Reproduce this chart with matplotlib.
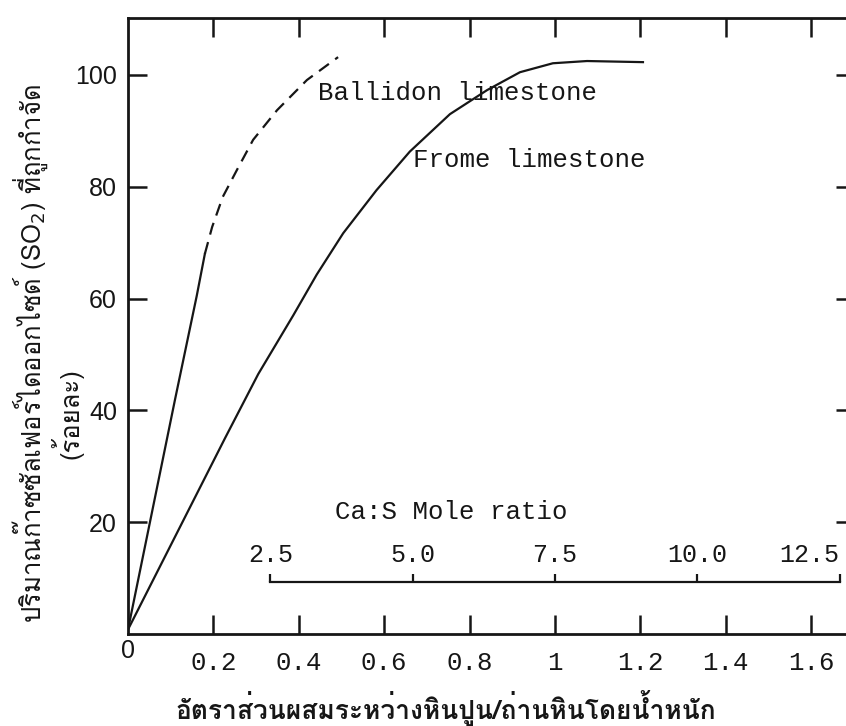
import matplotlib
matplotlib.use("Agg")
import matplotlib.pyplot as plt
from matplotlib import font_manager as fm
from matplotlib.ft2font import FT2Font

# values
ballidon_solid_x = [0, 0.110, 0.161, 0.180]
ballidon_solid_y = [0.8, 41.9, 60.5, 68.0]
ballidon_dash_x = [0.180, 0.197, 0.222, 0.255, 0.293, 0.349, 0.419, 0.492]
ballidon_dash_y = [68.0, 72.8, 78.2, 83.0, 88.4, 93.7, 99.1, 103.2]
frome_x = [0, 0.227, 0.305, 0.387, 0.442, 0.504, 0.582, 0.660,
           0.754, 0.841, 0.918, 0.995, 1.075, 1.206]
frome_y = [0.8, 35.0, 46.5, 57.0, 64.3, 71.7, 79.4, 86.3,
           93.0, 97.3, 100.5, 102.1, 102.5, 102.3]

x_ticks = [0.2, 0.4, 0.6, 0.8, 1.0, 1.2, 1.4, 1.6]
x_labels = ["0.2", "0.4", "0.6", "0.8", "1", "1.2", "1.4", "1.6"]
y_ticks = [20, 40, 60, 80, 100]

mole_per_weight = 7.5
mole_ticks = [2.5, 5.0, 7.5, 10.0, 12.5]
mole_labels = ["2.5", "5.0", "7.5", "10.0", "12.5"]
mole_axis_y = 9.3

ylabel_1 = "ปริมาณก๊าซซัลเฟอร์ไดออกไซด์ (SO$_2$) ที่ถูกกำจัด"
ylabel_2 = "(ร้อยละ)"
xlabel = "อัตราส่วนผสมระหว่างหินปูน/ถ่านหินโดยน้ำหนัก"


def find_thai(bold):
    # look for an installed font that has Thai glyphs
    found = None
    for f in fm.fontManager.ttflist:
        try:
            cmap = FT2Font(f.fname).get_charmap()
        except Exception:
            continue
        if 0x0E01 not in cmap:
            continue
        is_bold = f.weight in ("bold", "heavy") or (isinstance(f.weight, int) and f.weight >= 600)
        if found is None or is_bold == bold:
            found = f
            if is_bold == bold:
                break
    return found


thai_reg = find_thai(False)
thai_bold = find_thai(True)
thai_fam = [thai_reg.name, "DejaVu Sans"] if thai_reg else ["DejaVu Sans"]
bold_fam = [thai_bold.name, "DejaVu Sans"] if thai_bold else thai_fam

mono = "Liberation Mono"
sans = "Liberation Sans"
ink = "#161616"

fig = plt.figure(figsize=(8.46, 7.26), dpi=100)
ax = fig.add_axes([128 / 846, 1 - 634 / 726, 1 - 128 / 846, (634 - 18) / 726])
ax.set_xlim(0, (846 - 128) / 427)
ax.set_ylim(0, 616 / 5.59)

ax.plot(ballidon_solid_x, ballidon_solid_y, color=ink, lw=1.6)
ax.plot(ballidon_dash_x, ballidon_dash_y, color=ink, lw=1.6, dashes=(5.5, 3.5))
ax.plot(frome_x, frome_y, color=ink, lw=1.6)

for side in ["left", "bottom", "top"]:
    ax.spines[side].set_linewidth(2.0)
    ax.spines[side].set_color(ink)
ax.spines["right"].set_visible(False)

ax.set_xticks(x_ticks, labels=x_labels)
ax.set_yticks(y_ticks)
ax.tick_params(axis="both", direction="in", length=14, width=1.8, color=ink)
ax.tick_params(axis="x", top=True, pad=12, labelsize=18.5, labelfontfamily=mono, labelcolor=ink)
ax.tick_params(axis="y", pad=8, labelsize=18, labelfontfamily=sans, labelcolor=ink)
ax.annotate("0", xy=(0, 0), xytext=(0, -12), textcoords="offset points",
            ha="center", va="center", fontsize=18, family=sans, color=ink)

# short inward ticks on the right edge
axr = ax.twinx()
axr.set_ylim(ax.get_ylim())
axr.set_yticks(y_ticks, labels=[])
axr.tick_params(axis="y", direction="in", length=7, width=1.8, color=ink)
for s in axr.spines.values():
    s.set_visible(False)

# Ca:S mole ratio scale drawn inside the plot
sec = ax.secondary_xaxis(mole_axis_y, transform=ax.transData,
                         functions=(lambda w: w * mole_per_weight,
                                    lambda m: m / mole_per_weight))
sec.set_alignment("top")
sec.spines["top"].set_bounds(mole_ticks[0], mole_ticks[-1])
sec.spines["top"].set_linewidth(1.6)
sec.spines["top"].set_color(ink)
sec.set_xticks(mole_ticks, labels=mole_labels)
sec.tick_params(axis="x", direction="out", length=6, width=1.6, pad=5,
                labelsize=18, labelfontfamily=mono, color=ink, labelcolor=ink)
sec.get_xticklabels()[-1].set_horizontalalignment("right")

ax.text(0.758, 21.8, "Ca:S Mole ratio", ha="center", va="center",
        fontsize=18.5, family=mono, color=ink)
ax.text(0.445, 96.8, "Ballidon limestone", ha="left", va="center",
        fontsize=18.5, family=mono, color=ink)
ax.text(0.668, 84.8, "Frome limestone", ha="left", va="center",
        fontsize=18.5, family=mono, color=ink)

fig.text(30 / 846, 1 - 354 / 726, ylabel_1, rotation=90, ha="center", va="center",
         fontsize=18.5, family=thai_fam, color=ink)
fig.text(67 / 846, 1 - 414 / 726, ylabel_2, rotation=90, ha="center", va="center",
         fontsize=18.5, family=thai_fam, color=ink)
fig.text(446 / 846, 1 - 708 / 726, xlabel, ha="center", va="center",
         fontsize=19, family=bold_fam, weight="bold", color=ink)

fig.savefig("out.png", dpi=100, facecolor="white")
